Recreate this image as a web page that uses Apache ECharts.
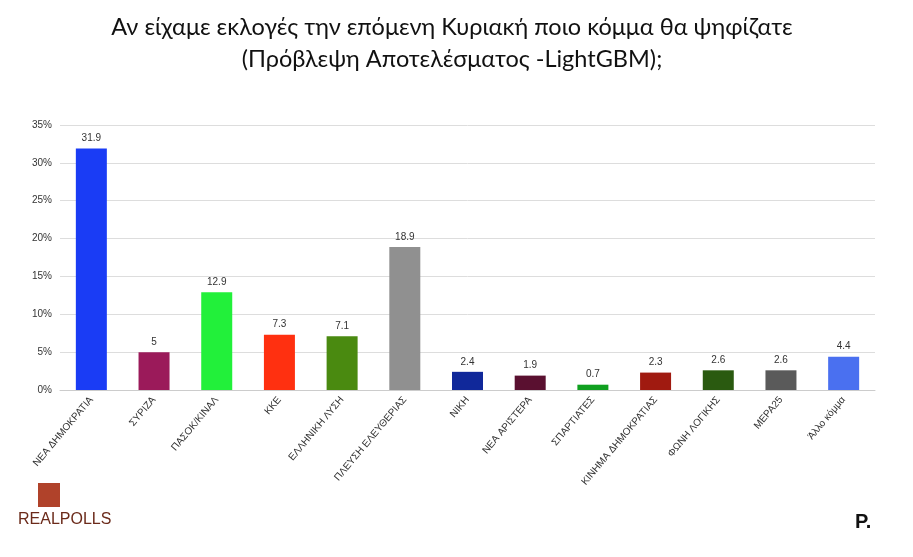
<!DOCTYPE html><html><head><meta charset="utf-8"><script src="https://cdn.jsdelivr.net/npm/echarts@6/dist/echarts.min.js"></script></head><body style="margin:0;background:#fff"><div id="c" style="width:913px;height:557px"></div><script>
const categories=["ΝΕΑ ΔΗΜΟΚΡΑΤΙΑ","ΣΥΡΙΖΑ","ΠΑΣΟΚ/ΚΙΝΑΛ","ΚΚΕ","ΕΛΛΗΝΙΚΗ ΛΥΣΗ","ΠΛΕΥΣΗ ΕΛΕΥΘΕΡΙΑΣ","ΝΙΚΗ","ΝΕΑ ΑΡΙΣΤΕΡΑ","ΣΠΑΡΤΙΑΤΕΣ","ΚΙΝΗΜΑ ΔΗΜΟΚΡΑΤΙΑΣ","ΦΩΝΗ ΛΟΓΙΚΗΣ","ΜΕΡΑ25","Άλλο κόμμα"];
const values=[31.9,5,12.9,7.3,7.1,18.9,2.4,1.9,0.7,2.3,2.6,2.6,4.4];
const colors=["#1a3cf5","#9b1a5a","#22f03a","#ff3010","#4a8a10","#909090","#10289a","#5a1030","#10a020","#a01a10","#2a5a10","#5a5a5a","#4a70f0"];
const ch=echarts.init(document.getElementById('c'));
ch.setOption({
title:{text:"Αν είχαμε εκλογές την επόμενη Κυριακή ποιο κόμμα θα ψηφίζατε\n(Πρόβλεψη Αποτελέσματος -LightGBM);",left:447,top:6,textAlign:'center',textStyle:{fontFamily:'Lato',fontWeight:'normal',fontSize:23.5,lineHeight:32,color:'#111'}},
grid:{left:60,right:38,top:125,bottom:167},
xAxis:{type:'category',data:categories,axisTick:{show:false},axisLine:{lineStyle:{color:'#ccc'}},axisLabel:{rotate:50,interval:0,fontSize:10,color:'#333',fontFamily:'Liberation Sans'}},
yAxis:{type:'value',min:0,max:35,interval:5,axisLabel:{formatter:'{value}%',fontSize:10,color:'#333'},splitLine:{lineStyle:{color:'#ddd'}}},
series:[{type:'bar',data:values.map((v,i)=>({value:v,itemStyle:{color:colors[i]}})),barWidth:31,label:{show:true,position:'top',fontSize:10,color:'#333'}}],
graphic:[{type:'text',left:18,top:512,style:{text:'REALPOLLS',fontSize:16,fill:'#6b2a1a',fontFamily:'Liberation Sans'}},
{type:'rect',shape:{x:38,y:483,width:22,height:24},style:{fill:'#b0422a'}},
{type:'text',left:855,top:512,style:{text:'P.',fontSize:20,fontWeight:'bold',fill:'#111'}}]
});
</script></body></html>
